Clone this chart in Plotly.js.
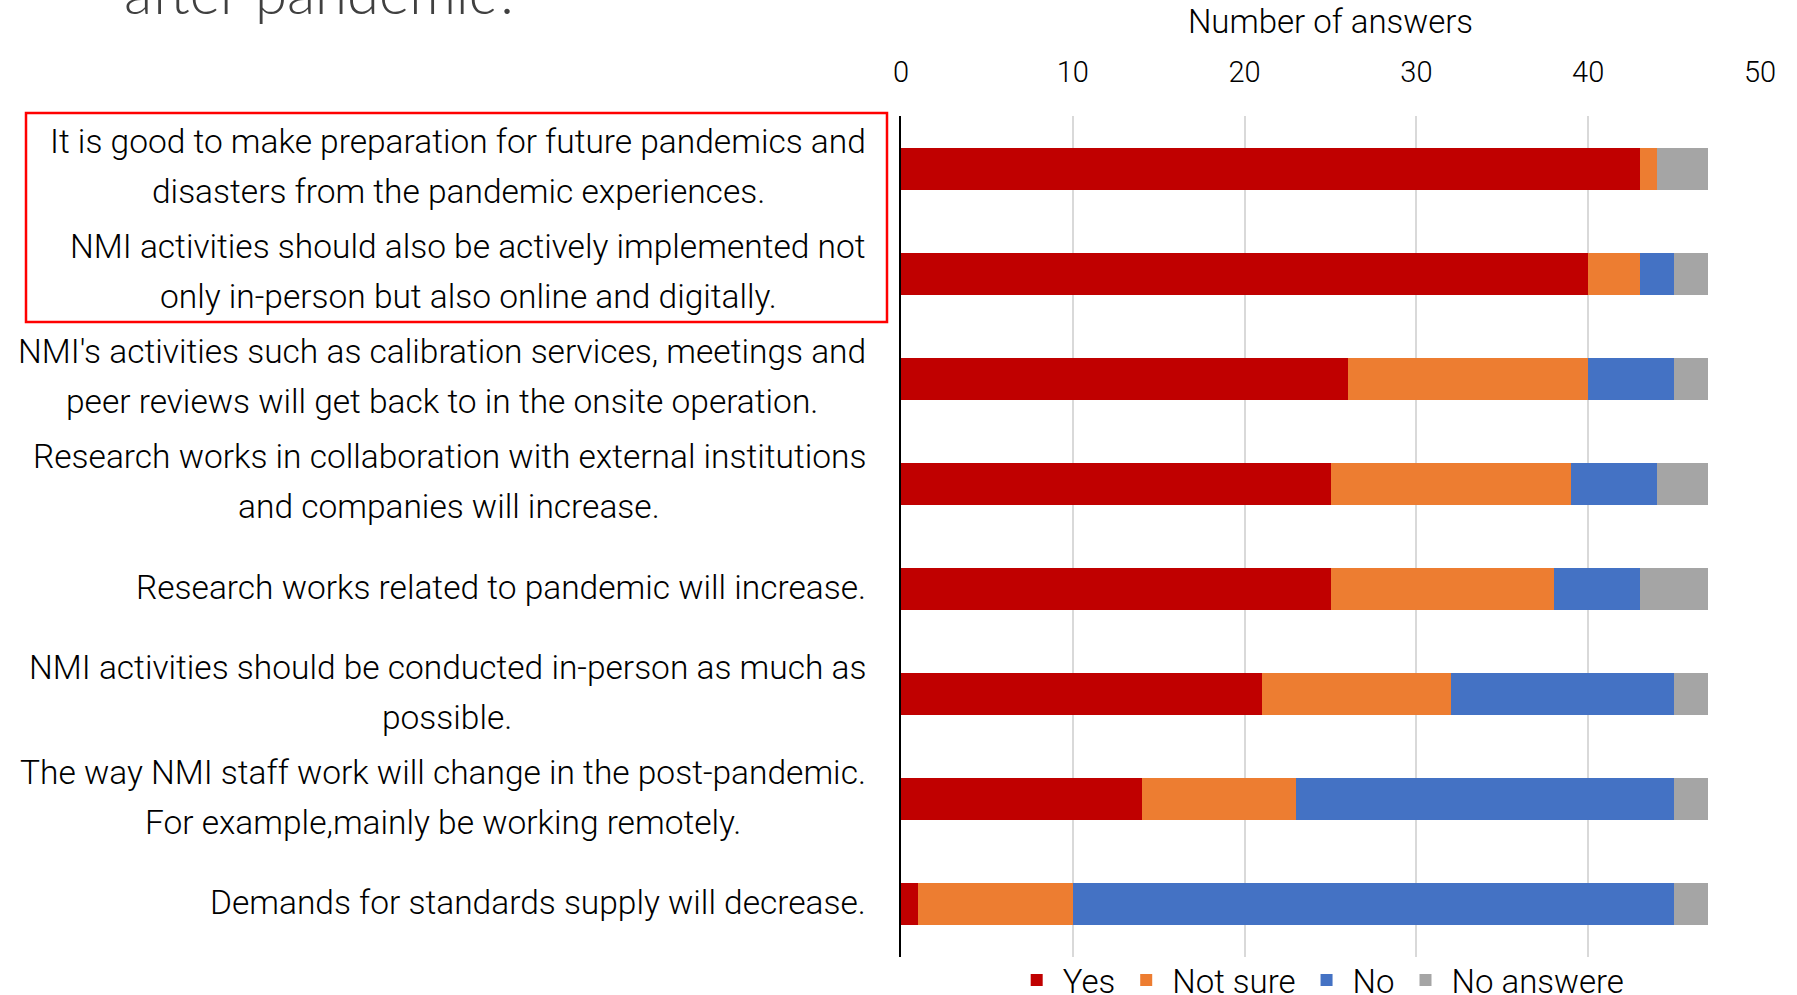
<!DOCTYPE html>
<html>
<head>
<meta charset="utf-8">
<script src="https://cdn.plot.ly/plotly-3.0.1.min.js"></script>
<style>
  html, body { margin: 0; padding: 0; background: #fff; overflow: hidden; }
  #chart { width: 1797px; height: 995px; }
</style>
</head>
<body>
<div id="chart"></div>
<script>
// ---- data ----
const categories = [
  "It is good to make preparation for future pandemics and<br>disasters from the pandemic experiences.",
  "NMI activities should also be actively implemented not<br>only in-person but also online and digitally.",
  "NMI's activities such as calibration services, meetings and<br>peer reviews will get back to in the onsite operation.",
  "Research works in collaboration with external institutions<br>and companies will increase.",
  "Research works related to pandemic will increase.",
  "NMI activities should be conducted in-person as much as<br>possible.",
  "The way NMI staff work will change in the post-pandemic.<br>For example,mainly be working remotely.",
  "Demands for standards supply will decrease."
];
const seriesNames = ["Yes", "Not sure", "No", "No answere"];
const yesValues      = [43, 40, 26, 25, 25, 21, 14, 1];
const notSureValues  = [1, 3, 14, 14, 13, 11, 9, 9];
const noValues       = [0, 2, 5, 5, 5, 13, 22, 35];
const noAnswerValues = [3, 2, 2, 3, 4, 2, 2, 2];
const xTickValues = [0, 10, 20, 30, 40, 50];
const chartTitleTail = "after pandemic?";
const xAxisTitle = "Number of answers";

// ---- styling ----
const FONT = "Roboto, 'Noto Sans', sans-serif";
const TITLE_FONT = "Lato, Roboto, sans-serif";
const colors = ["#C00000", "#ED7D31", "#4472C4", "#A5A5A5"];
const W = 1797, H = 995;
const margin = { l: 901, r: 37, t: 116, b: 38 };
const plotW = W - margin.l - margin.r;
const plotH = H - margin.t - margin.b;
const labelSize = 33.5;
const labelWeight = 300;
const lineGap = 50;
const labelRight = 866; // px, right edge of label blocks
const nCat = categories.length;

const values = [yesValues, notSureValues, noValues, noAnswerValues];
const traces = values.map((v, k) => ({
  type: "bar",
  orientation: "h",
  name: seriesNames[k],
  x: v,
  y: categories,
  marker: { color: colors[k], line: { width: 0 } },
  hoverinfo: "x+name"
}));

// measure text for centred multi-line labels
const cv = document.createElement("canvas").getContext("2d");
cv.font = labelWeight + " " + labelSize + "px Roboto";
const annotations = [];
categories.forEach((cat, i) => {
  const lines = cat.split("<br>");
  const maxW = Math.max(...lines.map(s => cv.measureText(s).width));
  const centerPx = labelRight - maxW / 2;
  const n = lines.length;
  lines.forEach((line, j) => {
    annotations.push({
      xref: "paper", yref: "y",
      x: (centerPx - margin.l) / plotW, y: cat,
      xanchor: "center", yanchor: "middle",
      yshift: 2 - (j - (n - 1) / 2) * lineGap,
      text: line, showarrow: false,
      font: { family: FONT, size: labelSize, color: "#000", weight: labelWeight }
    });
  });
});
annotations.push({
  xref: "paper", yref: "paper",
  x: (122 - margin.l) / plotW, y: 1 + (margin.t + 9) / plotH,
  xanchor: "left", yanchor: "middle",
  text: chartTitleTail, showarrow: false,
  font: { family: TITLE_FONT, size: 58, color: "#404040", weight: 300 }
});

const layout = {
  width: W, height: H,
  margin: Object.assign({ autoexpand: false }, margin),
  paper_bgcolor: "#fff", plot_bgcolor: "#fff",
  barmode: "stack",
  bargap: 0.6,
  font: { family: FONT, color: "#000" },
  xaxis: {
    side: "top",
    range: [0, 50],
    tickvals: xTickValues,
    ticktext: xTickValues.map(String),
    tickfont: { family: FONT, size: 29, color: "#000", weight: labelWeight },
    ticklabelstandoff: 27,
    showgrid: true, gridcolor: "#D9D9D9", gridwidth: 2,
    zeroline: false, showline: false, ticks: "",
    fixedrange: true,
    title: { text: xAxisTitle, font: { family: FONT, size: 33, color: "#000", weight: labelWeight }, standoff: 11 }
  },
  yaxis: {
    type: "category",
    range: [nCat - 0.5, -0.5],
    showticklabels: false,
    showgrid: false, zeroline: false,
    showline: true, linecolor: "#000", linewidth: 2,
    ticks: "", fixedrange: true
  },
  legend: {
    orientation: "h",
    x: 0.488, xanchor: "center",
    y: 0.006, yanchor: "top",
    font: { family: FONT, size: 33, color: "#000", weight: labelWeight },
    traceorder: "normal",
    itemwidth: 42,
    bgcolor: "rgba(0,0,0,0)"
  },
  shapes: [{
    type: "rect", xref: "paper", yref: "paper",
    x0: (26 - margin.l) / plotW, x1: (887 - margin.l) / plotW,
    y0: 1 + (margin.t - 113) / plotH, y1: 1 - (322 - margin.t) / plotH,
    line: { color: "#FF0000", width: 2.5 }
  }],
  annotations: annotations,
  showlegend: true
};

Plotly.newPlot("chart", traces, layout, { displayModeBar: false, staticPlot: true });
</script>
</body>
</html>
